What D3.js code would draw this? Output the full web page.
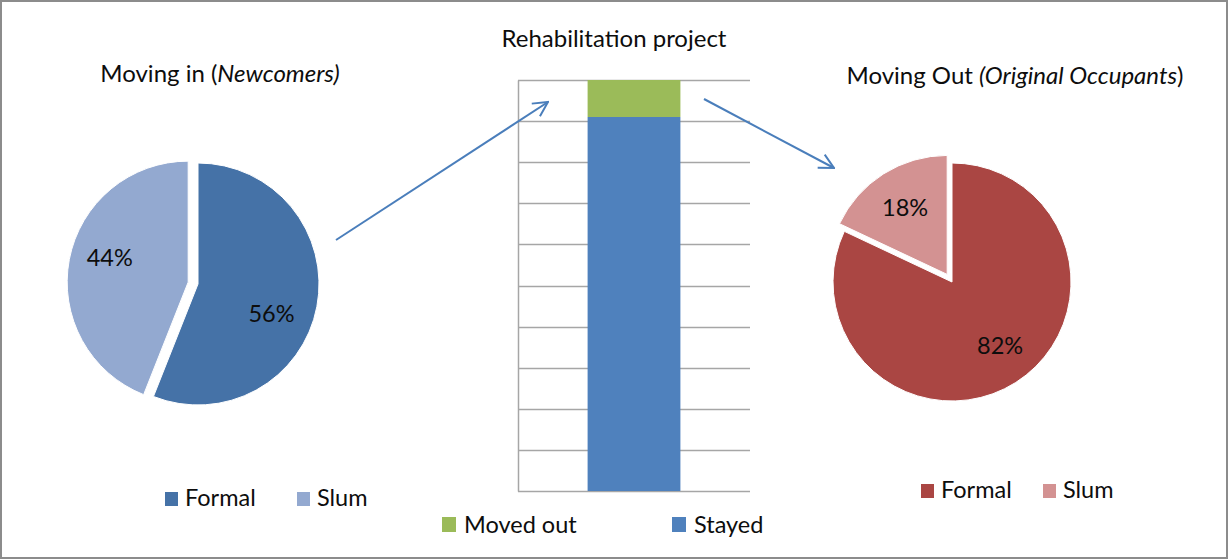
<!DOCTYPE html>
<html>
<head>
<meta charset="utf-8">
<script src="https://cdn.jsdelivr.net/npm/d3@7"></script>
<style>
  html, body { margin: 0; padding: 0; background: #fff; }
  svg { display: block; }
  text { font-family: Lato, "Open Sans", sans-serif; fill: #0d0d0d; }
</style>
</head>
<body>
<svg id="chart" width="1228" height="560"></svg>
<script>
// Housing mix of newcomers vs. original occupants around a rehabilitation project
const housingTypes = ["Formal", "Slum"];
const newcomerShares = [56, 44];      // Moving in (Newcomers), %
const occupantShares = [82, 18];      // Moving Out (Original Occupants), %
const projectCategories = ["Rehabilitation project"];
const projectSeries = ["Stayed", "Moved out"];
const stayedValues = [91];
const movedOutValues = [9];
const projectTicks = [0, 10, 20, 30, 40, 50, 60, 70, 80, 90, 100];

const svg = d3.select("#chart");
const W = 1228, H = 560;
const TITLE_SIZE = "24px";
const LABEL_SIZE = "23.5px";

// chart frame
svg.append("rect")
  .attr("x", 1).attr("y", 1).attr("width", W - 2).attr("height", H - 3)
  .attr("fill", "#fff").attr("stroke", "#8c8c8c").attr("stroke-width", 2);

// ---------- pie charts ----------
function drawPie(cfg) {
  const g = svg.append("g").attr("transform", `translate(${cfg.cx},${cfg.cy})`);
  const data = cfg.labels.map((l, i) => ({ label: l, value: cfg.values[i], color: cfg.colors[i] }));
  const pie = d3.pie().value(d => d.value).sort(null);
  const arc = d3.arc().innerRadius(0).outerRadius(cfg.r);
  const arcs = pie(data);

  arcs.forEach((a, i) => {
    const mid = (a.startAngle + a.endAngle) / 2;
    const off = cfg.explode[i];
    const dx = Math.sin(mid) * off, dy = -Math.cos(mid) * off;
    const sg = g.append("g").attr("transform", `translate(${dx},${dy})`);
    sg.append("path")
      .attr("d", arc(a))
      .attr("fill", a.data.color)
      .attr("stroke", "#fff").attr("stroke-width", 1);
    // data label sits near the slice centroid, with a small best-fit nudge
    const lr = cfg.r * 0.66;
    const [nx, ny] = cfg.labelNudge[i];
    sg.append("text")
      .attr("x", Math.sin(mid) * lr + nx)
      .attr("y", -Math.cos(mid) * lr + ny)
      .attr("dy", "0.35em")
      .attr("text-anchor", "middle")
      .style("font-size", LABEL_SIZE)
      .text(a.data.value + "%");
  });

  // title
  const t = svg.append("text")
    .attr("x", cfg.titleX).attr("y", cfg.titleY)
    .attr("text-anchor", "middle")
    .style("font-size", TITLE_SIZE);
  cfg.title.forEach(part => {
    t.append("tspan").style("font-style", part.italic ? "italic" : "normal").text(part.text);
  });

  // legend
  const lg = svg.append("g").attr("transform", `translate(${cfg.legendX},${cfg.legendY})`);
  let x = 0;
  data.forEach((d, i) => {
    lg.append("rect").attr("x", x).attr("y", -14).attr("width", 13).attr("height", 14).attr("fill", d.color);
    lg.append("text").attr("x", x + 20).attr("y", 0).style("font-size", LABEL_SIZE).text(d.label);
    x += cfg.legendStep;
  });
}

drawPie({
  cx: 198, cy: 284, r: 121,
  labels: housingTypes, values: newcomerShares,
  colors: ["#4572a7", "#93a9d0"],
  explode: [0, 10],
  labelNudge: [[-5, 15], [0, -9]],
  title: [{ text: "Moving in (" }, { text: "Newcomers)", italic: true }],
  titleX: 220, titleY: 82,
  legendX: 165, legendY: 506, legendStep: 132
});

drawPie({
  cx: 952, cy: 282, r: 119,
  labels: housingTypes, values: occupantShares,
  colors: ["#aa4643", "#d39292"],
  explode: [0, 9],
  labelNudge: [[6, -3], [0, 0]],
  title: [{ text: "Moving Out " }, { text: "(Original Occupants", italic: true }, { text: ")" }],
  titleX: 1015, titleY: 84,
  legendX: 921, legendY: 498, legendStep: 122
});

// ---------- stacked column ----------
const plot = { left: 518, right: 750, top: 80, bottom: 491 };
const xBand = d3.scaleBand().domain(projectCategories)
  .range([plot.left, plot.right]).paddingInner(0.6).paddingOuter(0.3);
const yLin = d3.scaleLinear().domain([0, 100]).range([plot.bottom, plot.top]);

const gridG = svg.append("g");
gridG.selectAll("line").data(projectTicks).join("line")
  .attr("x1", plot.left).attr("x2", plot.right)
  .attr("y1", d => Math.round(yLin(d)) + 0.5).attr("y2", d => Math.round(yLin(d)) + 0.5)
  .attr("stroke", "#a6a6a6").attr("stroke-width", 1.5);

const yAxis = d3.axisLeft(yLin).tickValues(projectTicks).tickSize(0).tickFormat("");
svg.append("g").attr("transform", `translate(${plot.left},0)`).call(yAxis)
  .call(g => g.select(".domain").attr("stroke", "#a6a6a6").attr("stroke-width", 1.5));

const stackRows = projectCategories.map((c, i) => ({ cat: c, "Stayed": stayedValues[i], "Moved out": movedOutValues[i] }));
const stacked = d3.stack().keys(projectSeries)(stackRows);
const seriesColor = { "Stayed": "#4f81bd", "Moved out": "#9bbb59" };

svg.append("g").selectAll("g").data(stacked).join("g")
  .attr("fill", s => seriesColor[s.key])
  .selectAll("rect").data(s => s).join("rect")
  .attr("x", d => xBand(d.data.cat))
  .attr("width", xBand.bandwidth())
  .attr("y", d => yLin(d[1]))
  .attr("height", d => yLin(d[0]) - yLin(d[1]));

svg.append("text").attr("x", 614).attr("y", 47).attr("text-anchor", "middle")
  .style("font-size", TITLE_SIZE).text(projectCategories[0]);

// legend for the column
const legendOrder = ["Moved out", "Stayed"];
const legendPos = [442, 672];
legendOrder.forEach((k, i) => {
  svg.append("rect").attr("x", legendPos[i]).attr("y", 517).attr("width", 14).attr("height", 15).attr("fill", seriesColor[k]);
  svg.append("text").attr("x", legendPos[i] + 22).attr("y", 533).style("font-size", LABEL_SIZE).text(k);
});

// ---------- flow arrows ----------
const arrowColor = "#4a7ebb";
svg.append("defs").append("marker")
  .attr("id", "openArrow").attr("viewBox", "0 0 18 18")
  .attr("refX", 16.5).attr("refY", 9)
  .attr("markerWidth", 18).attr("markerHeight", 18)
  .attr("markerUnits", "userSpaceOnUse")
  .attr("orient", "auto")
  .append("path").attr("d", "M2,1.5 L16.5,9 L2,16.5")
  .attr("fill", "none").attr("stroke", arrowColor).attr("stroke-width", 2);

[[336, 240, 548, 102], [704, 99, 834, 168]].forEach(([x1, y1, x2, y2]) => {
  svg.append("line")
    .attr("x1", x1).attr("y1", y1).attr("x2", x2).attr("y2", y2)
    .attr("stroke", arrowColor).attr("stroke-width", 2)
    .attr("marker-end", "url(#openArrow)");
});
</script>
</body>
</html>
